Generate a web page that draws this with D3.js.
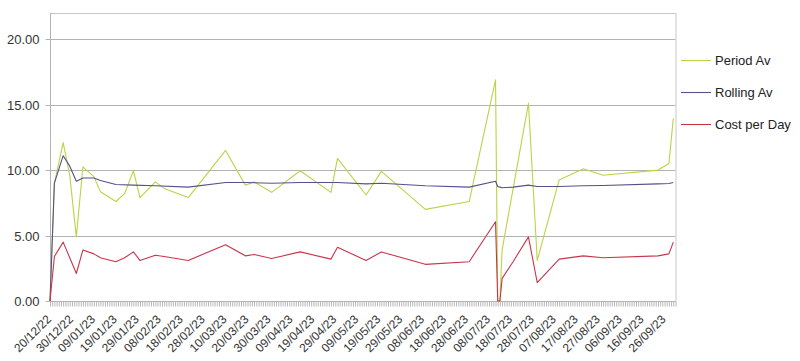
<!DOCTYPE html>
<html>
<head>
<meta charset="utf-8">
<script src="https://cdn.jsdelivr.net/npm/d3@7"></script>
<style>
  html, body { margin: 0; padding: 0; background: #fff; }
  svg { display: block; font-family: "Liberation Sans", Arial, sans-serif; }
</style>
</head>
<body>
<svg id="chart" width="800" height="361"></svg>
<script>
// ---- Data ----
const axisStart = "20/12/22";
const axisEnd = "01/10/23";
const tickLabels = ["20/12/22","30/12/22","09/01/23","19/01/23","29/01/23","08/02/23","18/02/23","28/02/23",
  "10/03/23","20/03/23","30/03/23","09/04/23","19/04/23","29/04/23","09/05/23","19/05/23","29/05/23",
  "08/06/23","18/06/23","28/06/23","08/07/23","18/07/23","28/07/23","07/08/23","17/08/23","27/08/23",
  "06/09/23","16/09/23","26/09/23"];
const yTicks = [0, 5, 10, 15, 20];
const seriesNames = ["Period Av", "Rolling Av", "Cost per Day"];

const periodDates = ["20/12/22","22/12/22","26/12/22","29/12/22","01/01/23","04/01/23","09/01/23","12/01/23",
  "19/01/23","23/01/23","27/01/23","30/01/23","06/02/23","10/02/23","21/02/23","10/03/23","19/03/23",
  "23/03/23","31/03/23","13/04/23","27/04/23","30/04/23","13/05/23","20/05/23","09/06/23","29/06/23",
  "11/07/23","12/07/23","13/07/23","14/07/23","26/07/23","30/07/23","09/08/23","20/08/23","29/08/23",
  "23/09/23","28/09/23","30/09/23"];
const periodAv = [0, 9.0, 12.1, 9.6, 4.9, 10.25, 9.5, 8.35, 7.6, 8.2, 9.95, 7.9, 9.1, 8.6, 7.9, 11.5, 8.85,
  9.1, 8.3, 9.95, 8.3, 10.9, 8.1, 9.9, 7.0, 7.6, 16.9, 0, 0, 3.9, 15.1, 3.1, 9.25, 10.1, 9.6,
  10.0, 10.5, 13.95];

const rollingDates = ["20/12/22","22/12/22","26/12/22","29/12/22","01/01/23","04/01/23","09/01/23","12/01/23",
  "19/01/23","27/01/23","06/02/23","21/02/23","10/03/23","19/03/23","31/03/23","13/04/23","27/04/23",
  "30/04/23","13/05/23","20/05/23","09/06/23","29/06/23","11/07/23","12/07/23","13/07/23","14/07/23",
  "19/07/23","26/07/23","30/07/23","09/08/23","20/08/23","29/08/23","23/09/23","28/09/23","30/09/23"];
const rollingAv = [0, 9.0, 11.1, 10.3, 9.15, 9.4, 9.4, 9.2, 8.9, 8.85, 8.8, 8.7, 9.05, 9.05, 9.0, 9.05, 9.05,
  9.05, 8.95, 9.0, 8.8, 8.7, 9.15, 8.75, 8.7, 8.65, 8.7, 8.85, 8.75, 8.75, 8.8, 8.82, 8.95, 8.98, 9.05];

const costDates = ["20/12/22","22/12/22","26/12/22","29/12/22","01/01/23","04/01/23","09/01/23","12/01/23",
  "19/01/23","23/01/23","27/01/23","30/01/23","06/02/23","10/02/23","21/02/23","10/03/23","19/03/23",
  "23/03/23","31/03/23","13/04/23","27/04/23","30/04/23","13/05/23","20/05/23","09/06/23","29/06/23",
  "11/07/23","12/07/23","13/07/23","14/07/23","19/07/23","26/07/23","30/07/23","09/08/23","20/08/23",
  "29/08/23","23/09/23","28/09/23","30/09/23"];
const costPerDay = [0, 3.4, 4.5, 3.3, 2.1, 3.9, 3.6, 3.3, 3.0, 3.3, 3.75, 3.1, 3.5, 3.4, 3.1, 4.3, 3.45,
  3.55, 3.25, 3.75, 3.2, 4.1, 3.1, 3.75, 2.8, 3.0, 6.05, 0, 0, 1.73, 3.0, 4.9, 1.4, 3.2, 3.45,
  3.3, 3.45, 3.6, 4.5];

const colors = ["#bad446", "#57508c", "#c8354a"];

// ---- Layout ----
(function () {
const svg = d3.select("#chart");
const mLeft = 50, mRight = 675.5, mTop = 13, mBottom = 301;
const parse = d3.timeParse("%d/%m/%y");
const fmt = d3.timeFormat("%d/%m/%y");
const days = d3.timeDay.range(parse(axisStart), d3.timeDay.offset(parse(axisEnd), 1)).map(fmt);

const x = d3.scalePoint().domain(days).range([mLeft, mRight]);
const y = d3.scaleLinear().domain([0, 22]).range([mBottom, mTop]);

// gridlines
svg.append("g").selectAll("line").data(yTicks.filter(d => d > 0)).join("line")
  .attr("x1", mLeft).attr("x2", mRight)
  .attr("y1", d => Math.round(y(d)) + 0.5).attr("y2", d => Math.round(y(d)) + 0.5)
  .attr("stroke", "#b3b3b3").attr("stroke-width", 1);

// frame (top and right)
svg.append("path")
  .attr("d", `M${mLeft},${mTop + 0.5}H${mRight + 0.5}V${mBottom}`)
  .attr("fill", "none").attr("stroke", "#c8c8c8");

// y axis
const yAxis = d3.axisLeft(y).tickValues(yTicks).tickFormat(d3.format(".2f")).tickSize(5).tickPadding(6);
const gy = svg.append("g").attr("transform", `translate(${mLeft + 0.5},0)`).call(yAxis);
gy.select(".domain").attr("stroke", "#b3b3b3").attr("d", `M0,${mBottom}V${mTop}`);
gy.selectAll(".tick line").attr("stroke", "#b3b3b3");
gy.selectAll(".tick").attr("transform", d => `translate(0,${Math.round(y(d)) + 0.5})`);
gy.selectAll("text").attr("fill", "#333").style("font-size", "13px").style("font-family", "Liberation Sans, Arial, sans-serif");

// x axis: a tick every day, labels every 10 days
const xAxis = d3.axisBottom(x).tickSize(5).tickFormat("");
const gx = svg.append("g").attr("transform", `translate(0,${mBottom + 0.5})`).call(xAxis);
gx.select(".domain").attr("stroke", "#b3b3b3").attr("d", `M${mLeft},0H${mRight + 0.5}`);
gx.selectAll(".tick line").attr("stroke", "#b8b8b8");

svg.append("g").selectAll("text").data(tickLabels).join("text")
  .attr("transform", d => `translate(${x(d) - 1},${mBottom + 16}) rotate(-45)`)
  .attr("text-anchor", "end")
  .attr("dy", "0.35em")
  .attr("fill", "#333")
  .style("font-size", "12px")
  .text(d => d);

// lines
const line = d3.line().x(d => x(d[0])).y(d => y(d[1]));
const seriesData = [
  d3.zip(periodDates, periodAv),
  d3.zip(rollingDates, rollingAv),
  d3.zip(costDates, costPerDay)
];
svg.append("g").selectAll("path").data(seriesData).join("path")
  .attr("d", line)
  .attr("fill", "none")
  .attr("stroke", (d, i) => colors[i])
  .attr("stroke-width", 1.1)
  .attr("stroke-linejoin", "round");

// legend
const lg = svg.append("g").selectAll("g").data(seriesNames).join("g")
  .attr("transform", (d, i) => `translate(681,${[60.5, 92.5, 124.5][i]})`);
lg.append("line").attr("x1", 0).attr("x2", 30).attr("y1", 0).attr("y2", 0)
  .attr("stroke", (d, i) => colors[i]).attr("stroke-width", 1.1);
lg.append("text").attr("x", 34).attr("dy", "0.35em").attr("fill", "#222")
  .style("font-size", "13px").text(d => d);
})();
</script>
</body>
</html>
